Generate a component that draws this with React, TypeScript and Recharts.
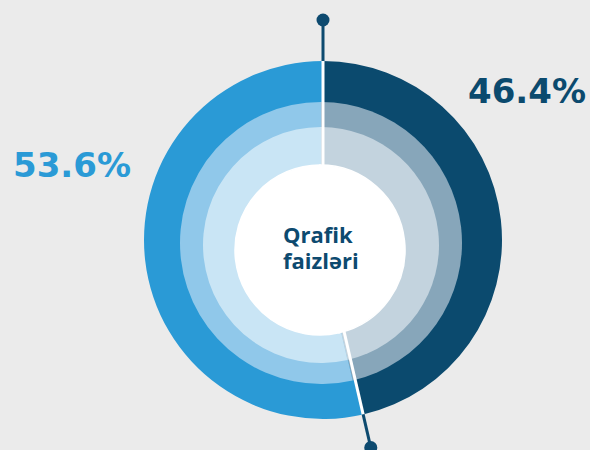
import { PieChart, Pie, Cell } from 'recharts'

// share of each part, dark part first (drawn clockwise from 12 o'clock)
const categories = ['Tünd', 'Açıq']
const values = [46.4, 53.6]
const centerLines = ['Qrafik', 'faizləri']

const outerColors = ['#0B4A6E', '#2A9AD6']
const middleColors = ['#87A6BA', '#90C8EA']
const innerColors = ['#C3D3DE', '#C9E5F5']
const navy = '#0D4A6F'

const data = categories.map((name, i) => ({ name, value: values[i] }))

// ring geometry (the rings are slightly off-centre in the original)
const OUTER = { cx: 323, cy: 240, r: 179 }
const MIDDLE = { cx: 321, cy: 243, r: 141 }
const INNER = { cx: 321, cy: 245, r: 118 }
const HOLE = { cx: 320, cy: 250, r: 85 }

const RAD = Math.PI / 180

function polar(angle: number, r: number) {
  return {
    x: OUTER.cx + r * Math.cos(-angle * RAD),
    y: OUTER.cy + r * Math.sin(-angle * RAD),
  }
}

function Divider({ angle, reach }: { angle: number; reach: number }) {
  const a = polar(angle, 60)
  const b = polar(angle, OUTER.r)
  const c = polar(angle, reach)
  return (
    <g>
      <line x1={a.x} y1={a.y} x2={b.x} y2={b.y} stroke="#FFFFFF" strokeWidth={3} />
      <line x1={b.x} y1={b.y} x2={c.x} y2={c.y} stroke={navy} strokeWidth={3} />
      <circle cx={c.x} cy={c.y} r={6.5} fill={navy} />
    </g>
  )
}

const pctStyle = {
  fontFamily: '"DejaVu Sans", sans-serif',
  fontWeight: 700,
  fontSize: 34,
}

const centerStyle = { fontFamily: '"Open Sans", sans-serif', fontWeight: 700, fontSize: 22 }

function renderOverlay(props: any) {
  const { index, startAngle, endAngle, value } = props
  if (index === 1) {
    return (
      <text x={OUTER.cx - 310} y={OUTER.cy - 63} fill={outerColors[1]} textAnchor="start" style={pctStyle}>
        {`${value}%`}
      </text>
    )
  }
  return (
    <g>
      <Divider angle={startAngle} reach={220} />
      <Divider angle={endAngle} reach={213} />
      <text x={OUTER.cx + 263} y={OUTER.cy - 137} fill={outerColors[0]} textAnchor="end" style={pctStyle}>
        {`${value}%`}
      </text>
      <text x={HOLE.cx - 37} y={HOLE.cy - 7} fill={navy} textAnchor="start" style={centerStyle}>
        {centerLines[0]}
      </text>
      <text x={HOLE.cx - 37} y={HOLE.cy + 19} fill={navy} textAnchor="start" style={centerStyle}>
        {centerLines[1]}
      </text>
    </g>
  )
}

export default function App() {
  return (
    <div style={{ width: 590, height: 450, background: '#EBEBEB' }}>
      <style>{'body{margin:0;background:#EBEBEB}'}</style>
      <PieChart width={590} height={450} margin={{ top: 0, right: 0, bottom: 0, left: 0 }}>
        <Pie
          data={data}
          dataKey="value"
          cx={OUTER.cx}
          cy={OUTER.cy}
          innerRadius={0}
          outerRadius={OUTER.r}
          startAngle={90}
          endAngle={-270}
          stroke="none"
          isAnimationActive={false}
        >
          {data.map((d, i) => (
            <Cell key={d.name} fill={outerColors[i]} />
          ))}
        </Pie>
        <Pie
          data={data}
          dataKey="value"
          cx={MIDDLE.cx}
          cy={MIDDLE.cy}
          innerRadius={0}
          outerRadius={MIDDLE.r}
          startAngle={90}
          endAngle={-270}
          stroke="none"
          isAnimationActive={false}
        >
          {data.map((d, i) => (
            <Cell key={d.name} fill={middleColors[i]} />
          ))}
        </Pie>
        <Pie
          data={data}
          dataKey="value"
          cx={INNER.cx}
          cy={INNER.cy}
          innerRadius={0}
          outerRadius={INNER.r}
          startAngle={90}
          endAngle={-270}
          stroke="none"
          isAnimationActive={false}
        >
          {data.map((d, i) => (
            <Cell key={d.name} fill={innerColors[i]} />
          ))}
        </Pie>
        <Pie
          data={data}
          dataKey="value"
          cx={HOLE.cx}
          cy={HOLE.cy}
          innerRadius={0}
          outerRadius={HOLE.r}
          startAngle={90}
          endAngle={-270}
          stroke="#FFFFFF"
          strokeWidth={1.5}
          fill="#FFFFFF"
          label={renderOverlay}
          labelLine={false}
          isAnimationActive={false}
        >
          {data.map((d) => (
            <Cell key={d.name} fill="#FFFFFF" stroke="#FFFFFF" />
          ))}
        </Pie>
      </PieChart>
    </div>
  )
}
